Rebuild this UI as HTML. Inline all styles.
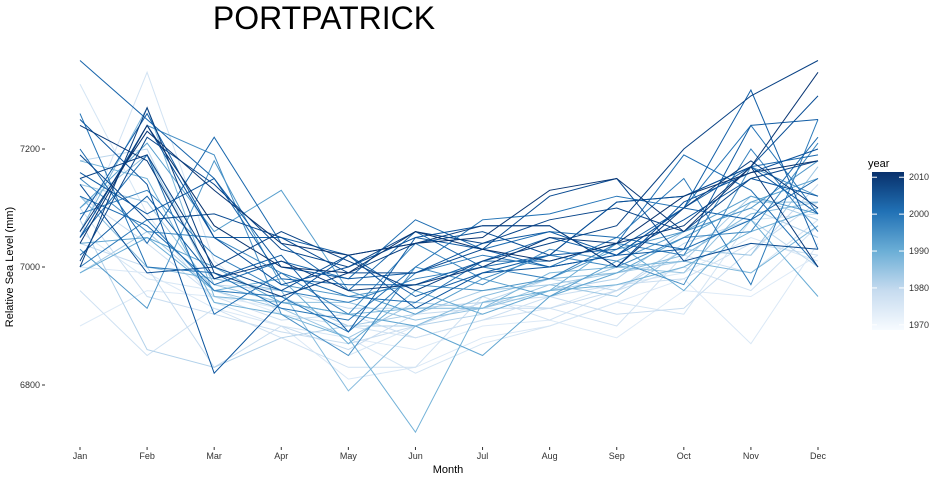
<!DOCTYPE html>
<html><head><meta charset="utf-8"><style>
body{margin:0;background:#fff;font-family:"Liberation Sans",sans-serif}
svg text{font-family:"Liberation Sans",sans-serif}
</style></head><body>
<svg width="940" height="480" id="c">
<defs><linearGradient id="g" x1="0" y1="1" x2="0" y2="0">
<stop offset="0" stop-color="#f7fbff"/><stop offset="0.25" stop-color="#c6dbef"/><stop offset="0.5" stop-color="#6baed6"/><stop offset="0.75" stop-color="#2171b5"/><stop offset="1" stop-color="#08306b"/></linearGradient></defs>
<text x="324" y="29" font-size="32" text-anchor="middle">PORTPATRICK</text>
<text x="448" y="473" font-size="11" text-anchor="middle">Month</text>
<text x="13" y="267" font-size="11" text-anchor="middle" transform="rotate(-90 13 267)">Relative Sea Level (mm)</text>
<g id="yt"></g>
<g id="xt"></g>
<g id="lines"></g>
<g>
<text x="868" y="167" font-size="11">year</text>
<rect x="872" y="172" width="32" height="158" fill="url(#g)"/>
<g id="lt"></g></g>
</svg>
<script>
const months=["Jan","Feb","Mar","Apr","May","Jun","Jul","Aug","Sep","Oct","Nov","Dec"];
const yTicks=[6800,7000,7200];
const legendTicks=[1970,1980,1990,2000,2010];
const years=[1969,1970,1971,1972,1973,1974,1975,1976,1977,1978,1979,1980,1981,1982,1983,1984,1985,1986,1987,1988,1989,1990,1991,1992,1993,1994,1995,1996,1997,1998,1999,2000,2001,2002,2003,2004,2005,2006,2007,2008,2009,2010,2011];
const levels=[
[6900,6960,6950,6930,6880,6860,6900,6910,6880,6960,6950,7020],
[7000,6990,6930,6900,6810,6830,6880,6900,6940,6980,6870,7040],
[7060,6980,6960,6920,6850,6900,6940,6930,6970,6990,7050,7010],
[7310,7090,6940,6900,6880,6820,6870,6900,6940,6920,7080,7090],
[7050,7330,7010,6920,6900,6880,6910,6930,6900,7020,6990,7080],
[6960,6850,6930,6880,6830,6830,6950,6910,6960,7000,6960,7070],
[7120,7040,6950,6910,6920,6880,6910,6950,6970,6980,7040,7020],
[7100,6950,6920,6890,6870,6900,6940,6950,6920,6930,7030,7110],
[7040,7000,6830,6900,6860,6920,6930,6930,6960,7030,7020,7140],
[7180,7200,6970,6960,6930,6930,6940,6980,6960,7040,7080,7000],
[7080,6860,6830,6880,6900,6900,6920,6960,6980,7060,7100,7050],
[6990,7060,6960,6950,6900,6920,6960,6970,6990,7010,7120,7080],
[7140,7110,6960,6930,6880,6940,6930,6970,6950,7030,7020,7170],
[7100,7190,6970,6940,6940,6910,6930,6960,7000,6990,7110,7110],
[7120,7000,6980,6960,6790,6900,6950,6980,6990,7020,7090,7110],
[7060,7270,6950,6940,6920,6930,6930,6990,7000,7010,6990,7070],
[7180,7150,6940,6920,6880,6720,6940,6960,6970,7000,7060,7100],
[6990,7050,6960,6980,6870,6960,6920,6960,7040,6960,7080,6950],
[7040,7050,7000,6940,6920,6900,6850,6950,6990,7050,7110,7150],
[7100,7210,7060,7130,6960,6920,6980,6950,7010,7060,7120,7090],
[7030,6930,7180,6970,6950,6970,6960,6980,7030,7060,7100,7180],
[7050,7240,7190,6920,6850,7000,6970,7030,7010,6970,7170,7120],
[7150,7060,7050,6990,6920,7040,6980,7020,7000,7050,7060,7210],
[7090,7130,7020,6960,6940,6980,7000,6980,7040,7020,7200,7060],
[7000,7080,6960,6950,6890,6990,7020,7000,7050,7150,6970,7250],
[7260,7000,6990,6930,6910,7000,7080,7090,7120,7100,7240,7090],
[7050,7190,6920,6990,6950,6940,7010,7010,7040,7190,7130,7000],
[7120,7070,6970,7010,6980,7080,7030,7060,7050,7030,7080,7220],
[7200,7040,7220,7040,6960,7060,7000,7020,7110,7120,7170,7190],
[7350,7250,7150,6980,6970,6970,7010,7050,7020,7100,7080,7150],
[7080,7260,7050,7050,7020,6950,6990,7020,7030,7100,7300,7030],
[7020,7120,6980,7020,6890,7050,7030,7000,7020,7030,7240,7250],
[7160,7090,7150,7000,6980,6990,7040,7060,7020,7100,7170,7090],
[7250,7140,6820,6940,7020,6930,6990,7000,7020,7080,7150,7120],
[7050,7240,7050,6970,7000,7050,7070,7070,7000,7110,7160,7200],
[7140,6990,7000,6960,7020,7040,7060,7020,7110,7120,7170,7290],
[7190,7080,7090,7050,6990,6990,7030,7120,7150,7010,7040,7030],
[7010,7220,7140,7030,7000,7060,7040,7080,7100,7060,7150,7180],
[7150,7190,7000,7060,7010,6960,7010,7040,7070,7200,7290,7350],
[7000,7270,6990,6950,6990,7040,7070,7070,7000,7100,7180,7100],
[7240,7180,6980,7010,6960,6970,7000,7050,7040,7070,7170,7000],
[7060,7230,7130,7040,7020,7040,7050,7130,7150,7060,7170,7330],
[7040,7240,7070,7000,6990,7060,7030,7010,7040,7120,7160,7180]
];
const NS="http://www.w3.org/2000/svg";
const xS=i=>80+i*(738/11);
const yS=v=>267-(v-7000)*0.59;
const colS=yr=>{const t=Math.max(0,Math.min(1,(yr-1968.6)/42.8));
 const st=[[222,235,247],[198,219,239],[107,174,214],[33,113,181],[8,81,156],[8,48,107]];
 const p=t*5,i=Math.min(4,Math.floor(p)),f=p-i;
 return "rgb("+st[i].map((c,k)=>Math.round(c+(st[i+1][k]-c)*f)).join(",")+")";};
const mk=(tag,at,par)=>{const e=document.createElementNS(NS,tag);for(const k in at)e.setAttribute(k,at[k]);par.appendChild(e);return e;};
const yt=document.getElementById('yt');
yTicks.forEach(v=>{const t=mk('text',{x:40,y:yS(v)+3,'font-size':9,'text-anchor':'end',fill:'#333'},yt);t.textContent=v;
 
 
 mk('line',{x1:42,x2:45,y1:yS(v),y2:yS(v),stroke:'#333'},yt);});
const xt=document.getElementById('xt');
months.forEach((m,i)=>{const t=mk('text',{x:xS(i),y:459,'font-size':9,'text-anchor':'middle',fill:'#333'},xt);t.textContent=m;
 
 
 mk('line',{x1:xS(i),x2:xS(i),y1:447,y2:450,stroke:'#333'},xt);});
const lg=document.getElementById('lines');
years.forEach((yr,j)=>{const p=mk('polyline',{points:levels[j].map((v,i)=>xS(i)+","+yS(v)).join(" "),fill:'none',stroke:colS(yr),'stroke-width':1},lg);
 
 });
const lt=document.getElementById('lt');
legendTicks.forEach(v=>{const y=330-(v-1968.6)*3.69;
 mk('line',{x1:872,x2:877,y1:y,y2:y,stroke:'#fff'},lt);mk('line',{x1:899,x2:904,y1:y,y2:y,stroke:'#fff'},lt);
 const t=mk('text',{x:909,y:y+3,'font-size':9,fill:'#333'},lt);t.textContent=v;
 
 });
</script>
</body></html>
